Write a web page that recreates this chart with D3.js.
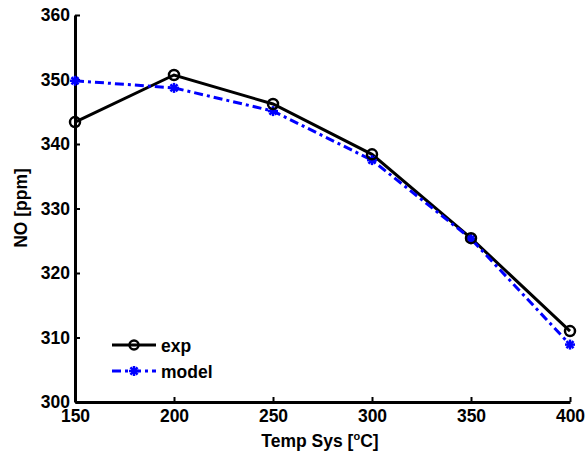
<!DOCTYPE html>
<html><head><meta charset="utf-8">
<script src="https://cdn.jsdelivr.net/npm/d3@7"></script>
<style>body{margin:0;background:#fff}svg{display:block}text{font-family:"Liberation Sans",Arial,sans-serif;font-weight:bold}</style>
</head><body><svg id="c" width="585" height="457"></svg>
<script>
const temps = [150, 200, 250, 300, 350, 400];
const expValues = [343.4, 350.7, 346.2, 338.4, 325.4, 311.0];
const modelValues = [349.8, 348.7, 345.1, 337.5, 325.3, 308.9];
const xTicks = [150, 200, 250, 300, 350, 400];
const yTicks = [300, 310, 320, 330, 340, 350, 360];
const seriesNames = ["exp", "model"];

const svg = d3.select("#c");
const x = d3.scaleLinear().domain([150, 400]).range([75, 570]);
const y = d3.scaleLinear().domain([300, 360]).range([402, 15]);
const FONT = '"Liberation Sans",Arial,sans-serif';

// axes
const xAxis = d3.axisBottom(x).tickValues(xTicks).tickSizeInner(-5).tickSizeOuter(0).tickPadding(8);
const yAxis = d3.axisLeft(y).tickValues(yTicks).tickSizeInner(-5).tickSizeOuter(0).tickPadding(5);
const gx = svg.append("g").attr("transform", "translate(0,402)").call(xAxis);
const gy = svg.append("g").attr("transform", "translate(75,0)").call(yAxis);
[gx, gy].forEach(g => {
  g.select(".domain").attr("stroke", "#000").attr("stroke-width", 3);
  g.selectAll(".tick line").attr("stroke", "#000").attr("stroke-width", 2);
  g.selectAll(".tick text").attr("fill", "#000").style("font-size", "17.5px").style("font-family", FONT).style("font-weight", "bold");
});

// titles
const xt = svg.append("text").attr("x", 320).attr("y", 447).attr("text-anchor", "middle").style("font-size", "17.5px");
xt.append("tspan").text("Temp Sys [");
xt.append("tspan").attr("dy", -7).style("font-size", "11px").text("o");
xt.append("tspan").attr("dy", 7).text("C]");
svg.append("text").attr("transform", "translate(27,208) rotate(-90)").attr("text-anchor", "middle").style("font-size", "17.5px").text("NO [ppm]");

// lines
const line = d3.line().x((d, i) => x(temps[i])).y(d => y(d));
svg.append("path").datum(expValues).attr("d", line).attr("fill", "none").attr("stroke", "#000").attr("stroke-width", 3);
svg.append("path").datum(modelValues).attr("d", line).attr("fill", "none").attr("stroke", "#0000ff").attr("stroke-width", 3).attr("stroke-dasharray", "9,4,3,4");

function star(g, cx, cy) {
  const r = 5;
  for (let k = 0; k < 4; k++) {
    const a = k * Math.PI / 4;
    g.append("line").attr("x1", cx - r * Math.cos(a)).attr("y1", cy - r * Math.sin(a))
      .attr("x2", cx + r * Math.cos(a)).attr("y2", cy + r * Math.sin(a))
      .attr("stroke", "#0000ff").attr("stroke-width", 2.5);
  }
}
const mg = svg.append("g");
modelValues.forEach((v, i) => star(mg, x(temps[i]), y(v)));
svg.selectAll("circle.exp").data(expValues).enter().append("circle").attr("class", "exp")
  .attr("cx", (d, i) => x(temps[i])).attr("cy", d => y(d)).attr("r", 5)
  .attr("fill", "none").attr("stroke", "#000").attr("stroke-width", 2.5);

// legend
const lg = svg.append("g");
lg.append("line").attr("x1", 112).attr("x2", 156).attr("y1", 345).attr("y2", 345).attr("stroke", "#000").attr("stroke-width", 3);
lg.append("circle").attr("cx", 134).attr("cy", 345).attr("r", 4.5).attr("fill", "none").attr("stroke", "#000").attr("stroke-width", 2.5);
lg.append("line").attr("x1", 112).attr("x2", 156).attr("y1", 371).attr("y2", 371).attr("stroke", "#0000ff").attr("stroke-width", 3).attr("stroke-dasharray", "9,4,3,4");
star(lg, 134, 371);
lg.append("text").attr("x", 161).attr("y", 352).style("font-size", "17.5px").text(seriesNames[0]);
lg.append("text").attr("x", 161).attr("y", 378).style("font-size", "17.5px").text(seriesNames[1]);
</script></body></html>
